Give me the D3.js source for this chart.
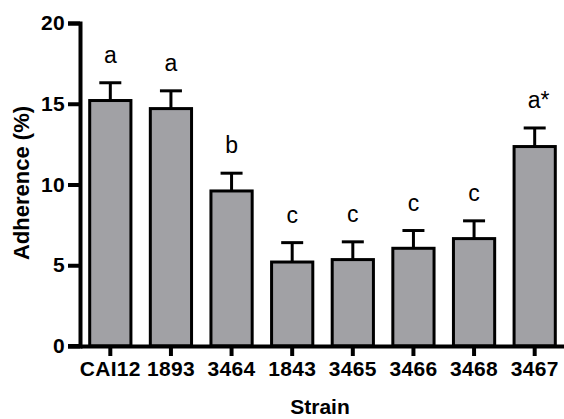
<!DOCTYPE html>
<html>
<head>
<meta charset="utf-8">
<script src="https://cdn.jsdelivr.net/npm/d3@7"></script>
<style>
  body { margin: 0; background: #fff; }
  svg text { font-family: "Liberation Sans", Arial, sans-serif; }
</style>
</head>
<body>
<div id="chart"></div>
<script>
// data
var strains = ["CAI12", "1893", "3464", "1843", "3465", "3466", "3468", "3467"];
var adherence = [15.2, 14.7, 9.6, 5.2, 5.35, 6.05, 6.65, 12.35];
var errors = [1.1, 1.1, 1.1, 1.2, 1.1, 1.1, 1.1, 1.15];
var letters = ["a", "a", "b", "c", "c", "c", "c", "a*"];
var yTicks = [0, 5, 10, 15, 20];

var width = 564,
    height = 419,
    margin = { top: 23, right: -1, bottom: 73, left: 80 };

var svg = d3.select("#chart").append("svg")
    .attr("width", width)
    .attr("height", height);

var x = d3.scaleBand()
    .domain(strains)
    .range([margin.left, width - margin.right])
    .paddingInner(0.32)
    .paddingOuter(0.16);

var y = d3.scaleLinear()
    .domain([0, 20])
    .range([height - margin.bottom, margin.top]);

var data = strains.map(function (s, i) {
    return { strain: s, value: adherence[i], err: errors[i], letter: letters[i] };
});

// bars
svg.selectAll("rect.bar")
    .data(data)
    .enter()
    .append("rect")
    .attr("class", "bar")
    .attr("x", d => x(d.strain))
    .attr("y", d => y(d.value))
    .attr("width", x.bandwidth())
    .attr("height", d => y(0) - y(d.value))
    .style("fill", "#a1a1a5")
    .style("stroke", "#000")
    .style("stroke-width", 3);

// error bars (upper only)
var errG = svg.selectAll("g.err")
    .data(data)
    .enter()
    .append("g")
    .attr("class", "err");

errG.append("line")
    .attr("x1", d => x(d.strain) + x.bandwidth() / 2)
    .attr("x2", d => x(d.strain) + x.bandwidth() / 2)
    .attr("y1", d => y(d.value))
    .attr("y2", d => y(d.value + d.err))
    .style("stroke", "#000")
    .style("stroke-width", 3);

errG.append("line")
    .attr("x1", d => x(d.strain) + x.bandwidth() / 2 - 11)
    .attr("x2", d => x(d.strain) + x.bandwidth() / 2 + 11)
    .attr("y1", d => y(d.value + d.err))
    .attr("y2", d => y(d.value + d.err))
    .style("stroke", "#000")
    .style("stroke-width", 3);

// significance letters
svg.selectAll("text.letter")
    .data(data)
    .enter()
    .append("text")
    .attr("class", "letter")
    .attr("x", d => x(d.strain) + x.bandwidth() / 2 + (d.letter.length > 1 ? 4 : 0))
    .attr("y", d => y(d.value + d.err) - 20)
    .attr("text-anchor", "middle")
    .style("font-size", "23px")
    .text(d => d.letter);

// y axis
var yAxis = svg.append("g")
    .attr("transform", "translate(" + margin.left + ",0)")
    .call(d3.axisLeft(y).tickValues(yTicks).tickSize(12).tickPadding(3));

// x axis
var xAxis = svg.append("g")
    .attr("transform", "translate(0," + y(0) + ")")
    .call(d3.axisBottom(x).tickSize(10).tickPadding(5).tickSizeOuter(0));

[yAxis, xAxis].forEach(function (ax) {
    ax.select(".domain").style("stroke", "#000").style("stroke-width", 4);
    ax.selectAll(".tick line").style("stroke", "#000").style("stroke-width", 4);
    ax.selectAll(".tick text")
        .style("fill", "#000")
        .style("font-size", "21px")
        .style("font-weight", "bold")
        .style("letter-spacing", "0.3px")
        .style("font-family", "'Liberation Sans', Arial, sans-serif");
});

// extend x-axis line left to meet the 0 tick
svg.append("line")
    .attr("x1", margin.left - 12)
    .attr("x2", margin.left)
    .attr("y1", y(0))
    .attr("y2", y(0))
    .style("stroke", "#000")
    .style("stroke-width", 4);

// axis titles
svg.append("text")
    .attr("transform", "translate(28.5,183) rotate(-90)")
    .attr("text-anchor", "middle")
    .style("font-size", "22px")
    .style("font-weight", "bold")
    .text("Adherence (%)");

svg.append("text")
    .attr("x", 320)
    .attr("y", 414)
    .attr("text-anchor", "middle")
    .style("font-size", "21px")
    .style("font-weight", "bold")
    .text("Strain");
</script>
</body>
</html>
